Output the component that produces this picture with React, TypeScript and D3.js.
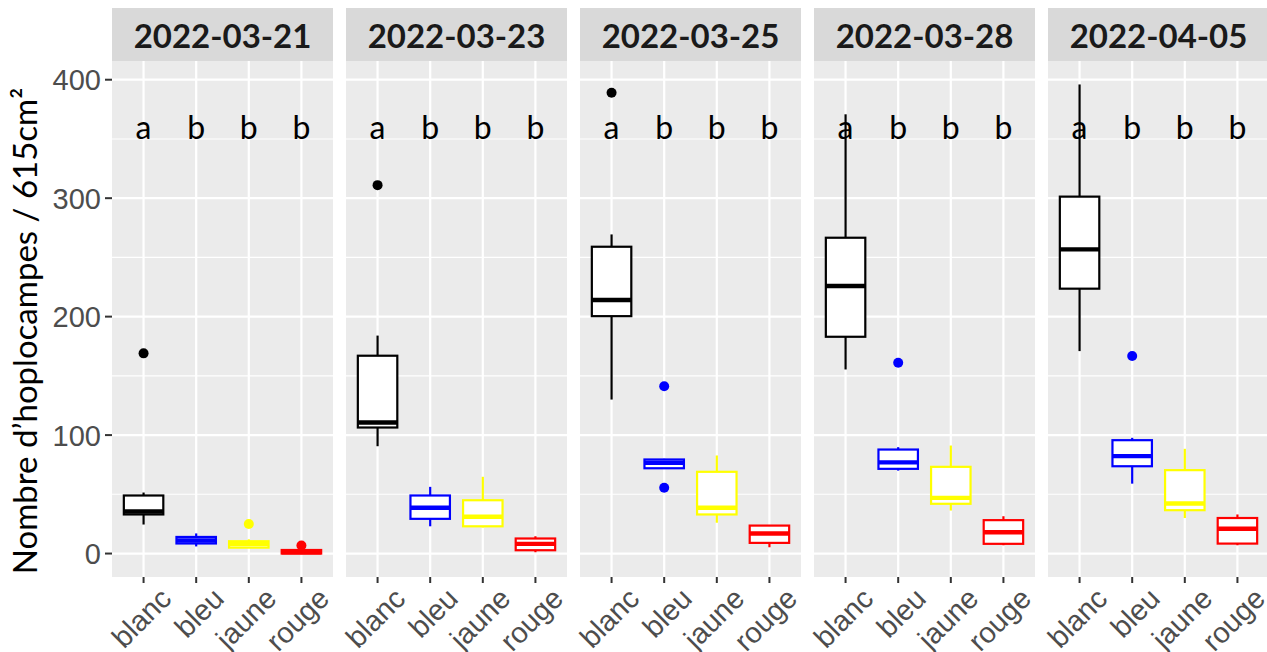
import React from "react";
import * as d3 from "d3";

// Hoplocampes caught per trap colour, five sampling dates (boxplot stats)
const dates = ["2022-03-21", "2022-03-23", "2022-03-25", "2022-03-28", "2022-04-05"];
const categories = ["blanc", "bleu", "jaune", "rouge"];
const letters = ["a", "b", "b", "b"];

const lowerWhisker = [
  [24.5, 6, 5, 0],
  [90.6, 23, 22, 1.1],
  [130, 72, 26, 5.3],
  [155.4, 70, 36.3, 7],
  [170.9, 59, 30, 7],
];
const q1 = [
  [33, 8.5, 5, 0],
  [106.4, 29.3, 23, 2.8],
  [200.4, 72, 33, 9],
  [183, 71.5, 42, 8.2],
  [223.6, 73.7, 36.6, 8.4],
];
const medians = [
  [35.5, 11, 8, 1],
  [110.6, 38.6, 31, 8.2],
  [214, 76.6, 38.6, 16.9],
  [225.8, 77, 47, 18],
  [256.8, 82.2, 42.2, 20.9],
];
const q3 = [
  [49, 14, 10.4, 3],
  [167, 49, 45, 12.7],
  [259, 79.4, 69, 23.6],
  [266.6, 87.8, 73.2, 28.2],
  [301.3, 95.7, 70.4, 30],
];
const upperWhisker = [
  [51.5, 17, 12, 4],
  [184, 56.3, 64.8, 14.6],
  [269.4, 80, 82.8, 23.6],
  [370.8, 89.8, 91.2, 31.5],
  [396, 97.7, 88.4, 33],
];
const outliers = [
  [[169], [], [25], [6.8]],
  [[311], [], [], []],
  [[389], [141.3, 55.5], [], []],
  [[], [161], [], []],
  [[], [166.7], [], []],
];
const yTicks = [0, 100, 200, 300, 400];
const letterY = 350;

const colour = d3.scaleOrdinal<string, string>().domain(categories).range(["#000000", "#0000FF", "#FFFF00", "#FF0000"]);

const W = 1267;
const H = 652;
const panelTop = 61;
const panelBottom = 577;
const panelW = 221;
const firstLeft = 112;
const panelStep = 234;

export default function App() {
  const allVals = [
    ...lowerWhisker.flat(),
    ...upperWhisker.flat(),
    ...outliers.flat(2),
  ];
  const lo = d3.min(allVals) as number;
  const hi = d3.max(allVals) as number;
  const pad = (hi - lo) * 0.05;
  const y = d3.scaleLinear().domain([lo - pad, hi + pad]).range([panelBottom, panelTop]);
  const minor = yTicks.slice(0, -1).map((t, i) => (t + yTicks[i + 1]) / 2);

  return (
    <svg width={W} height={H} style={{ position: "absolute", left: 0, top: 0, background: "#fff" }}>
      {/* y axis title */}
      <text
        transform={`translate(37, ${(panelTop + panelBottom) / 2 + 12}) rotate(-90)`}
        textAnchor="middle"
        fontFamily="Lato"
        fontSize={33}
        fill="#000"
      >
        Nombre d’hoplocampes / 615cm²
      </text>
      {/* y ticks */}
      {yTicks.map((t) => (
        <g key={t}>
          <line x1={105} x2={firstLeft} y1={y(t)} y2={y(t)} stroke="#333" strokeWidth={2} />
          <text x={101} y={y(t)} dy="0.36em" textAnchor="end" fontFamily="Liberation Sans, Arial" fontSize={29} fill="#4D4D4D">
            {t}
          </text>
        </g>
      ))}
      {dates.map((date, di) => {
        const left = firstLeft + di * panelStep;
        const x = d3.scalePoint<string>().domain(categories).range([left, left + panelW]).padding(0.6);
        const bw = x.step() * 0.75;
        return (
          <g key={date}>
            {/* strip */}
            <rect x={left} y={8} width={panelW} height={panelTop - 8} fill="#D9D9D9" />
            <text x={left + panelW / 2} y={48} textAnchor="middle" fontFamily="Lato" fontWeight="bold" fontSize={33} fill="#1A1A1A">
              {date}
            </text>
            {/* panel */}
            <rect x={left} y={panelTop} width={panelW} height={panelBottom - panelTop} fill="#EBEBEB" />
            {minor.map((t) => (
              <line key={"m" + t} x1={left} x2={left + panelW} y1={y(t)} y2={y(t)} stroke="#fff" strokeWidth={1.1} />
            ))}
            {yTicks.map((t) => (
              <line key={"M" + t} x1={left} x2={left + panelW} y1={y(t)} y2={y(t)} stroke="#fff" strokeWidth={2.2} />
            ))}
            {categories.map((c) => (
              <line key={"v" + c} x1={x(c)} x2={x(c)} y1={panelTop} y2={panelBottom} stroke="#fff" strokeWidth={2.2} />
            ))}
            {/* letters */}
            {categories.map((c, ci) => (
              <text key={"l" + c} x={x(c)} y={y(letterY)} textAnchor="middle" fontFamily="Lato" fontSize={32} fill="#000">
                {letters[ci]}
              </text>
            ))}
            {/* boxes */}
            {categories.map((c, ci) => {
              const cx = x(c) as number;
              const col = colour(c);
              return (
                <g key={"b" + c}>
                  <line x1={cx} x2={cx} y1={y(upperWhisker[di][ci])} y2={y(q3[di][ci])} stroke={col} strokeWidth={2.2} />
                  <line x1={cx} x2={cx} y1={y(q1[di][ci])} y2={y(lowerWhisker[di][ci])} stroke={col} strokeWidth={2.2} />
                  <rect
                    x={cx - bw / 2}
                    y={y(q3[di][ci])}
                    width={bw}
                    height={y(q1[di][ci]) - y(q3[di][ci])}
                    fill="#fff"
                    stroke={col}
                    strokeWidth={2.2}
                  />
                  <line x1={cx - bw / 2} x2={cx + bw / 2} y1={y(medians[di][ci])} y2={y(medians[di][ci])} stroke={col} strokeWidth={4.4} />
                  {outliers[di][ci].map((v, oi) => (
                    <circle key={oi} cx={cx} cy={y(v)} r={5} fill={col} />
                  ))}
                </g>
              );
            })}
            {/* x ticks and labels */}
            {categories.map((c) => (
              <g key={"t" + c}>
                <line x1={x(c)} x2={x(c)} y1={panelBottom} y2={panelBottom + 6} stroke="#333" strokeWidth={2} />
                <text
                  transform={`translate(${(x(c) as number) + 14}, ${panelBottom + 8}) rotate(-45)`}
                  textAnchor="end"
                  dy="0.75em"
                  fontFamily="Liberation Sans, Arial"
                  fontSize={29}
                  fill="#4D4D4D"
                >
                  {c}
                </text>
              </g>
            ))}
          </g>
        );
      })}
    </svg>
  );
}
